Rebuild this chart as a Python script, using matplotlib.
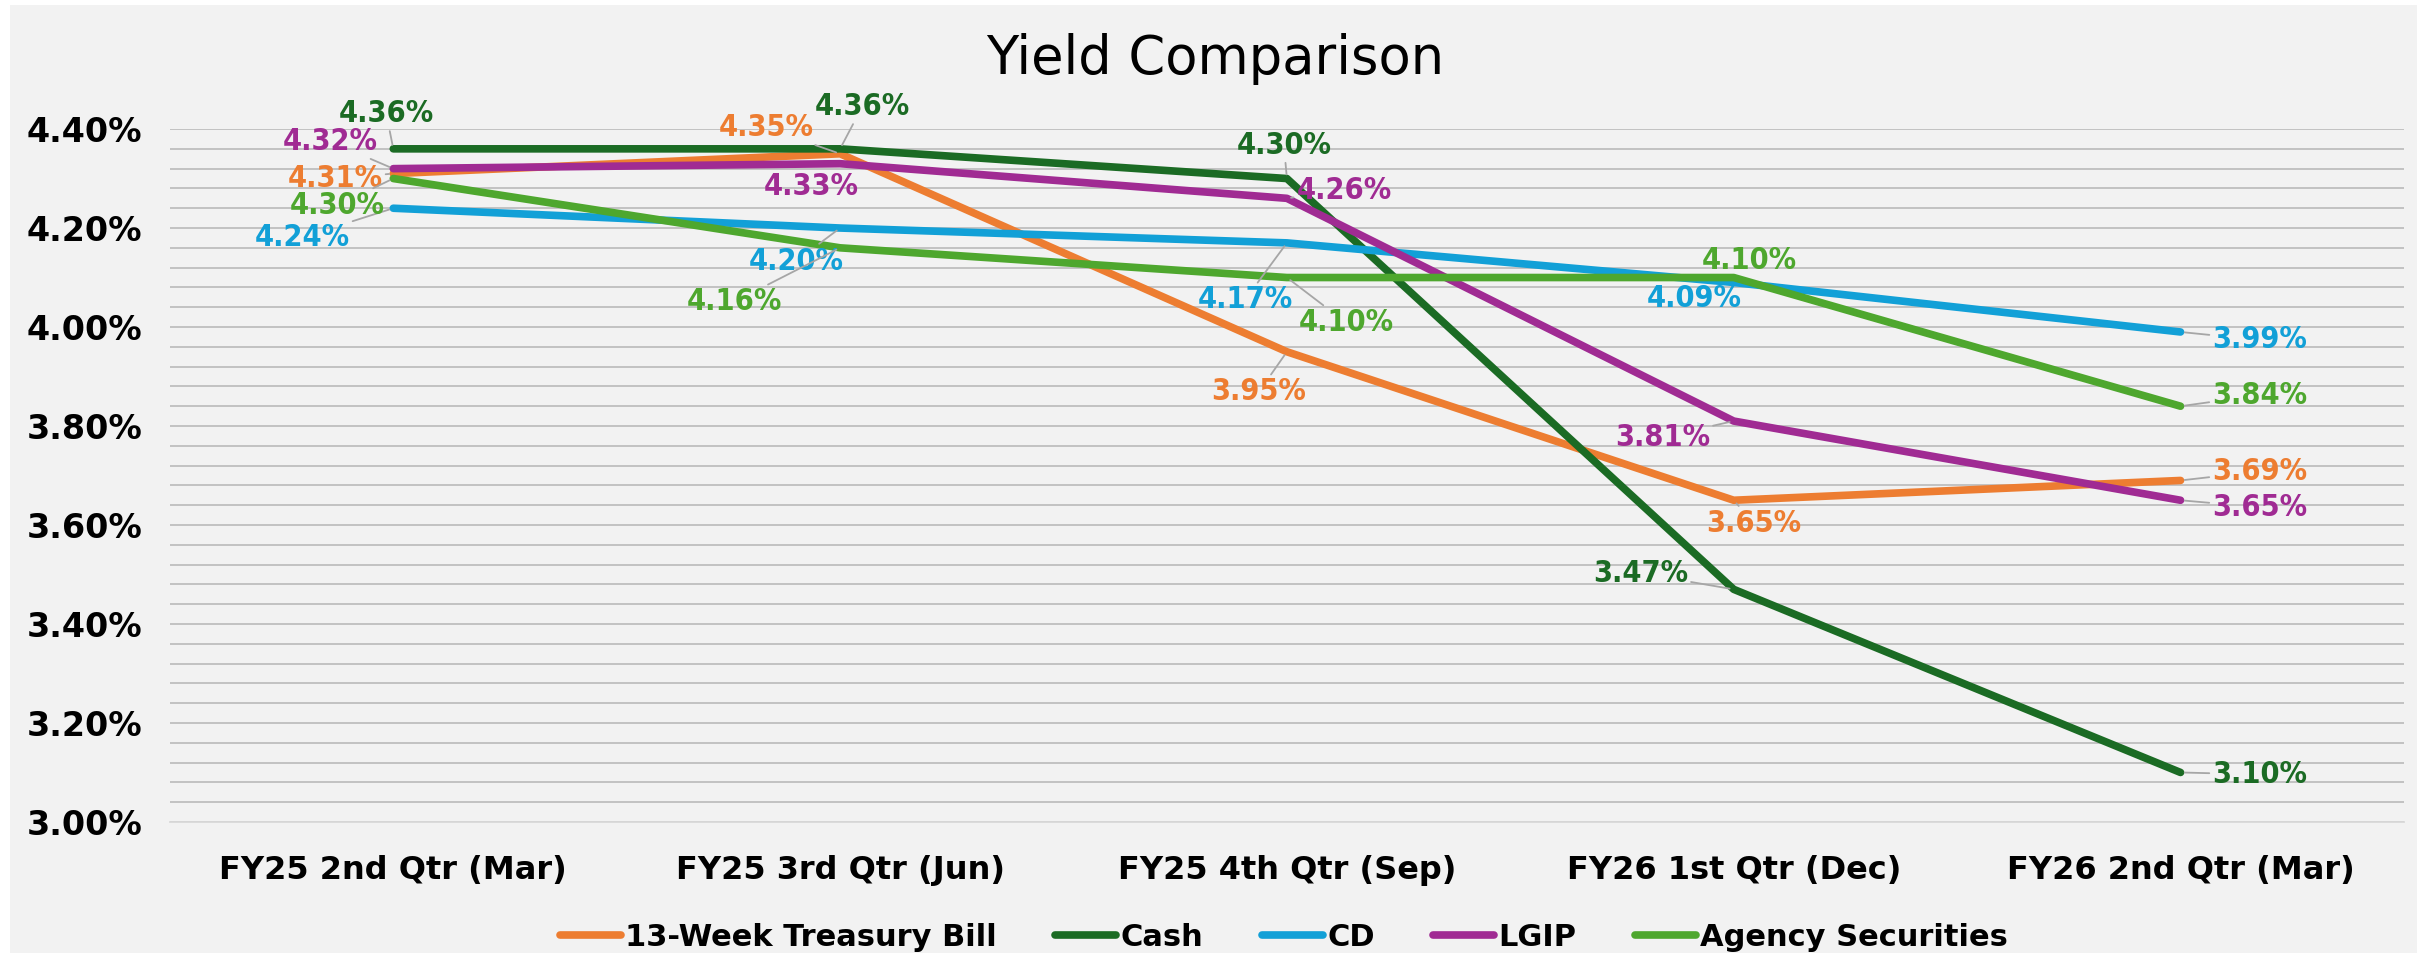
import matplotlib.pyplot as plt
from matplotlib import font_manager
from matplotlib.patches import Rectangle
from matplotlib.ticker import MultipleLocator, FuncFormatter

# --- data ---
quarters = ["FY25 2nd Qtr (Mar)", "FY25 3rd Qtr (Jun)", "FY25 4th Qtr (Sep)",
            "FY26 1st Qtr (Dec)", "FY26 2nd Qtr (Mar)"]
tbill = [4.31, 4.35, 3.95, 3.65, 3.69]
cash = [4.36, 4.36, 4.30, 3.47, 3.10]
cd = [4.24, 4.20, 4.17, 4.09, 3.99]
lgip = [4.32, 4.33, 4.26, 3.81, 3.65]
agency = [4.30, 4.16, 4.10, 4.10, 3.84]
series_names = ["13-Week Treasury Bill", "Cash", "CD", "LGIP", "Agency Securities"]
y_tick_values = [3.00, 3.20, 3.40, 3.60, 3.80, 4.00, 4.20, 4.40]

colors = ["#ED7D31", "#1B6B24", "#12A0D7", "#A02B93", "#4EA72E"]

# label offsets in pixels (dx, dy) and whether a leader line is drawn
label_pos = {
    "13-Week Treasury Bill": [(-58, -5, True), (-74, 26, True), (-28, -40, True), (20, -23, True), (79, 9, True)],
    "Cash": [(-7, 35, True), (22, 42, True), (-3, 33, True), (-93, 16, True), (79, -2, True)],
    "CD": [(-91, -29, True), (-44, -33, True), (-42, -57, True), (-39, -16, False), (79, -8, True)],
    "LGIP": [(-63, 27, True), (-29, -23, False), (57, 8, True), (-71, -16, True), (79, -7, True)],
    "Agency Securities": [(-56, -27, True), (-106, -54, True), (59, -45, True), (16, 17, False), (79, 11, True)],
}

# narrow font for the data labels, falling back to whatever is closest
fonts = font_manager.fontManager.ttflist
names = {f.name for f in fonts}
label_font = dict(family="Liberation Sans", fontsize=20)
if "Liberation Sans Narrow" in names:
    label_font = dict(family="Liberation Sans Narrow", fontsize=22)
elif any(f.name == "DejaVu Sans" and f.stretch == "condensed" for f in fonts):
    label_font = dict(family="DejaVu Sans", stretch="condensed", fontsize=22)

fig = plt.figure(figsize=(24.27, 9.58), dpi=100)
fig.patch.set_facecolor("white")
fig.add_artist(Rectangle((0.004, 0.005), 0.992, 0.990, transform=fig.transFigure,
                         facecolor="#f2f2f2", edgecolor="none", zorder=0))

ax = fig.add_axes([0.070, 0.142, 0.9205, 0.7233])
ax.set_facecolor("none")

x = list(range(len(quarters)))
all_series = [tbill, cash, cd, lgip, agency]
for i, (name, vals, col) in enumerate(zip(series_names, all_series, colors)):
    ax.plot(x, vals, color=col, lw=5.5, solid_capstyle="round",
            solid_joinstyle="round", label=name, zorder=3 + i)
    for j, v in enumerate(vals):
        dx, dy, leader = label_pos[name][j]
        arrow = None
        if leader:
            arrow = dict(arrowstyle="-", color="#a6a6a6", lw=1.3, shrinkA=0, shrinkB=3)
        ax.annotate(f"{v:.2f}%", (j, v), xytext=(dx, dy), textcoords="offset pixels",
                    ha="center", va="center", color=col, fontweight="bold",
                    arrowprops=arrow, zorder=10, **label_font)

ax.set_xlim(-0.5, 4.5)
ax.set_ylim(3.0, 4.4)
ax.set_xticks(x)
ax.set_xticklabels(quarters, fontsize=23, fontweight="bold")
ax.set_yticks(y_tick_values)
ax.yaxis.set_major_formatter(FuncFormatter(lambda v, p: f"{v:.2f}%"))
ax.yaxis.set_minor_locator(MultipleLocator(0.04))
for lab in ax.get_yticklabels():
    lab.set_fontsize(24)
    lab.set_fontweight("bold")
ax.tick_params(axis="both", which="both", length=0)
ax.tick_params(axis="y", pad=20)
ax.tick_params(axis="x", pad=24)

ax.grid(True, axis="y", which="both", color="#bfbfbf", lw=1.3)
ax.set_axisbelow(True)
for s in ["top", "left", "right"]:
    ax.spines[s].set_visible(False)
ax.spines["bottom"].set_color("#d9d9d9")
ax.spines["bottom"].set_linewidth(1.3)

fig.text(0.5006, 1 - 59 / 958, "Yield Comparison", ha="center", va="center", fontsize=38)

fig.legend(loc="center", bbox_to_anchor=(0.529, 1 - 937 / 958), ncol=5, frameon=False,
           prop={"size": 22, "weight": "bold"}, handlelength=2.0, handletextpad=0.15,
           columnspacing=1.9)

fig.savefig("out.png", dpi=100, facecolor=fig.get_facecolor())
